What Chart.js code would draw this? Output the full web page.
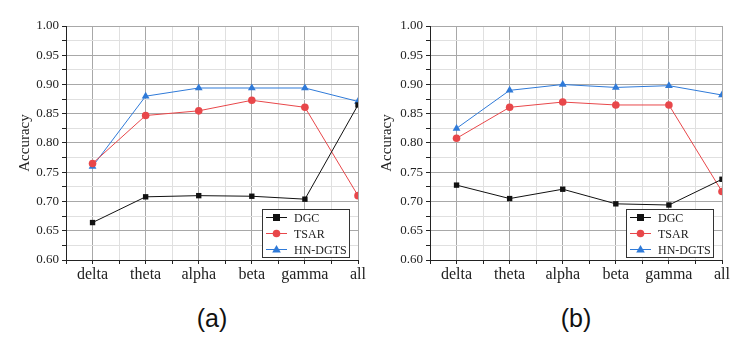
<!DOCTYPE html>
<html>
<head>
<meta charset="utf-8">
<script src="https://cdn.jsdelivr.net/npm/chart.js@4"></script>
<style>
  body { margin: 0; background: #fff; width: 738px; height: 348px; position: relative; overflow: hidden; }
  canvas { position: absolute; top: 0; }
  .cap { position: absolute; top: 304px; font-family: "Liberation Sans", Arial, sans-serif; font-size: 25px; color: #111; width: 100px; text-align: center; }
</style>
</head>
<body>
<canvas id="chartA" width="369" height="290" style="left:0"></canvas>
<canvas id="chartB" width="369" height="290" style="left:369px"></canvas>
<div class="cap" style="left:162px">(a)</div>
<div class="cap" style="left:526px">(b)</div>
<script>
// categories and values
const categories = ["delta", "theta", "alpha", "beta", "gamma", "all"];
const seriesNames = ["DGC", "TSAR", "HN-DGTS"];

const dgcA = [0.664, 0.708, 0.710, 0.709, 0.704, 0.865];
const tsarA = [0.765, 0.847, 0.855, 0.873, 0.861, 0.710];
const hnA = [0.760, 0.880, 0.894, 0.894, 0.894, 0.871];

const dgcB = [0.728, 0.705, 0.721, 0.696, 0.694, 0.738];
const tsarB = [0.808, 0.861, 0.870, 0.865, 0.865, 0.717];
const hnB = [0.825, 0.890, 0.900, 0.895, 0.898, 0.882];

const yMin = 0.60, yMax = 1.00;

const colors = ["#111111", "#e8474a", "#2f7ad8"];
const markers = ["rect", "circle", "triangle"];
const serif = "'Liberation Serif', 'Times New Roman', serif";

function toPoints(vals) {
  return vals.map((v, i) => ({ x: i, y: v }));
}

function drawMarker(ctx, style, x, y, color) {
  ctx.fillStyle = color;
  ctx.beginPath();
  if (style === "rect") {
    ctx.rect(x - 3.5, y - 3.5, 7, 7);
  } else if (style === "circle") {
    ctx.arc(x, y, 3.8, 0, Math.PI * 2);
  } else {
    ctx.moveTo(x, y - 4.5);
    ctx.lineTo(x + 4.3, y + 3);
    ctx.lineTo(x - 4.3, y + 3);
    ctx.closePath();
  }
  ctx.fill();
}

// boxed legend in the lower right corner of the plot
const boxLegend = {
  id: "boxLegend",
  afterDraw(chart) {
    const a = chart.chartArea;
    const ctx = chart.ctx;
    const w = 87, h = 48;
    const left = a.right - 9 - w;
    const top = a.bottom - 3 - h;
    ctx.save();
    ctx.fillStyle = "#fff";
    ctx.fillRect(left, top, w, h);
    ctx.strokeStyle = "#333";
    ctx.lineWidth = 1;
    ctx.strokeRect(left + 0.5, top + 0.5, w, h);
    chart.data.datasets.forEach((ds, i) => {
      const y = top + 8.5 + i * 16;
      ctx.strokeStyle = ds.borderColor;
      ctx.beginPath();
      ctx.moveTo(left + 4, y);
      ctx.lineTo(left + 25, y);
      ctx.stroke();
      drawMarker(ctx, markers[i], left + 14.5, y, ds.borderColor);
      ctx.fillStyle = "#222";
      ctx.font = "12px " + serif;
      ctx.textBaseline = "middle";
      ctx.textAlign = "left";
      ctx.fillText(ds.label, left + 32, y + 1);
    });
    ctx.restore();
  }
};

function makeChart(id, series, padLeft, axisWidth, padRight) {
  const ctx = document.getElementById(id).getContext("2d");
  return new Chart(ctx, {
    type: "line",
    data: {
      datasets: series.map((vals, i) => ({
        label: seriesNames[i],
        data: toPoints(vals),
        borderColor: colors[i],
        backgroundColor: colors[i],
        borderWidth: 1,
        pointStyle: markers[i],
        pointRadius: markers[i] === "triangle" ? 4.5 : 3.8,
        pointBorderWidth: 0,
        tension: 0
      }))
    },
    options: {
      responsive: false,
      animation: false,
      layout: { padding: { left: padLeft, right: padRight, top: 26, bottom: 0 } },
      plugins: { legend: { display: false }, tooltip: { enabled: false } },
      scales: {
        x: {
          type: "linear",
          min: -0.5,
          max: 5,
          afterFit: (s) => { s.height = 30; },
          ticks: {
            stepSize: 0.5,
            autoSkip: false,
            maxRotation: 0,
            padding: 1,
            color: "#222",
            font: { family: serif, size: 16 },
            callback: (v) => Number.isInteger(v) && v >= 0 ? categories[v] : ""
          },
          grid: {
            color: (c) => c.tick && Number.isInteger(c.tick.value) ? "#a8a8a8" : "#e0e0e0",
            tickColor: "#222",
            tickLength: 4
          },
          border: { color: "#222", width: 1 }
        },
        y: {
          min: yMin,
          max: yMax,
          afterFit: (s) => { s.width = axisWidth; },
          ticks: {
            stepSize: 0.025,
            autoSkip: false,
            padding: 3,
            color: "#222",
            font: { family: serif, size: 13 },
            callback: (v) => Math.round(v * 1000) % 50 === 0 ? v.toFixed(2) : ""
          },
          grid: {
            color: (c) => c.tick && Math.round(c.tick.value * 1000) % 50 === 0 ? "#a8a8a8" : "#e0e0e0",
            tickColor: "#222",
            tickLength: 4
          },
          border: { color: "#222", width: 1 },
          title: {
            display: true,
            text: "Accuracy",
            color: "#222",
            font: { family: serif, size: 15 },
            padding: { top: 0, bottom: 0 }
          }
        }
      }
    },
    plugins: [boxLegend]
  });
}

makeChart("chartA", [dgcA, tsarA, hnA], 16, 50, 11);
makeChart("chartB", [dgcB, tsarB, hnB], 9, 52, 16);
</script>
</body>
</html>
